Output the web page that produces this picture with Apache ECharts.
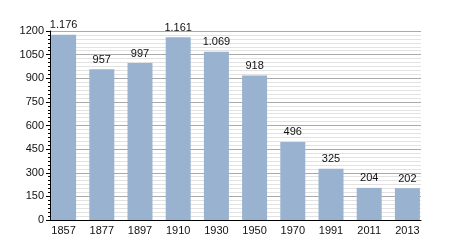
<!DOCTYPE html>
<html><head><meta charset="utf-8">
<script src="https://cdn.jsdelivr.net/npm/echarts@6/dist/echarts.min.js"></script>
<style>html,body{margin:0;padding:0;background:#fff}#c{width:450px;height:250px}</style>
</head><body><div id="c"></div>
<script>
var categories = ["1857","1877","1897","1910","1930","1950","1970","1991","2011","2013"];
var values = [1176, 957, 997, 1161, 1069, 918, 496, 325, 204, 202];
var yTicks = [0,150,300,450,600,750,900,1050,1200];

function fmt(v){ var s=String(v); return s.length>3 ? s.slice(0,s.length-3)+"."+s.slice(-3) : s; }
var FF = 'Liberation Sans, Arial, sans-serif';

var chart = echarts.init(document.getElementById('c'), null, {renderer:'canvas'});
chart.setOption({
  animation:false,
  backgroundColor:'#fff',
  grid:[
    {left:50,right:29,top:31,bottom:30,containLabel:false},
    {left:44.5,right:23.5,top:31,bottom:30,containLabel:false}
  ],
  xAxis:[
    {type:'category',gridIndex:0,data:categories,
      axisLine:{lineStyle:{color:'#000',width:1}},
      axisTick:{show:false},axisLabel:{show:false},splitLine:{show:false}},
    {type:'category',gridIndex:1,data:categories,
      axisLine:{show:false},axisTick:{show:false},splitLine:{show:false},
      axisLabel:{color:'#111',fontSize:11,fontFamily:FF,margin:5}}
  ],
  yAxis:[
    {type:'value',gridIndex:0,min:yTicks[0],max:yTicks[yTicks.length-1],interval:150,
      axisLine:{show:true,lineStyle:{color:'#000',width:1}},
      axisTick:{show:true,inside:false,length:4,lineStyle:{color:'#000'}},
      minorTick:{show:true,splitNumber:6,length:2,lineStyle:{color:'#000'}},
      splitLine:{show:true,lineStyle:{color:'#aaaaaa',width:1}},
      minorSplitLine:{show:true,lineStyle:{color:'#e2e2e2',width:1}},
      axisLabel:{color:'#111',fontSize:11,fontFamily:FF,margin:6,
        formatter:function(v){return String(v);}}},
    {type:'value',gridIndex:1,min:yTicks[0],max:yTicks[yTicks.length-1],interval:150,
      show:false,splitLine:{show:false}}
  ],
  series:[{type:'bar',xAxisIndex:1,yAxisIndex:1,data:values,barWidth:25,z:5,
    itemStyle:{color:'#98b2cf'},
    label:{show:true,position:'top',distance:4,color:'#111',fontSize:11,fontFamily:FF,
      formatter:function(p){return fmt(p.value);}}
  }]
});
</script></body></html>
